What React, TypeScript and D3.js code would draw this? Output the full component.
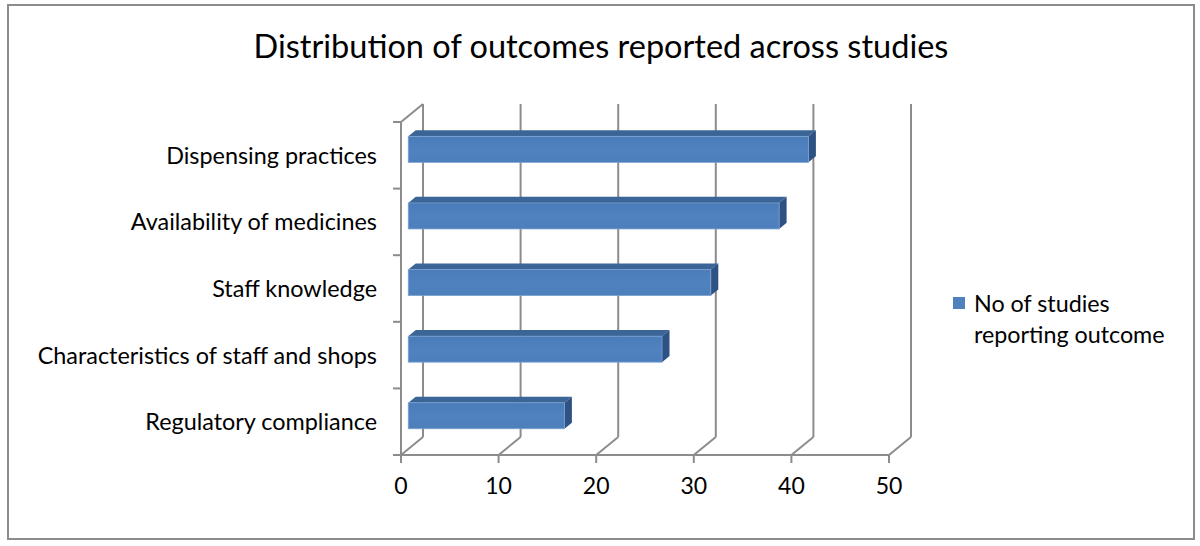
import React from "react";
import * as d3 from "d3";

const categories = [
  "Dispensing practices",
  "Availability of medicines",
  "Staff knowledge",
  "Characteristics of staff and shops",
  "Regulatory compliance",
];
const values = [41, 38, 31, 26, 16];
const xTicks = [0, 10, 20, 30, 40, 50];
const seriesName = ["No of studies", "reporting outcome"];
const title = "Distribution of outcomes reported across studies";

const W = 1200;
const H = 546;
const FONT = "Lato, 'Open Sans', 'Noto Sans', sans-serif";

export default function App() {
  const x = d3.scaleLinear().domain([0, 50]).range([401, 889]);
  const y = d3.scaleBand<string>().domain(categories).range([122, 455]);
  const depth = { dx: 22, dy: -18 };
  const f1 = 0.33;
  const f2 = 0.67;
  const o1 = { x: depth.dx * f1, y: depth.dy * f1 };
  const o2 = { x: depth.dx * f2, y: depth.dy * f2 };
  const barH = y.bandwidth() * 0.39;
  const grid = "#8c8c8c";
  const yBottom = y.range()[1];
  const yTop = y.range()[0];
  const boundaries = [...categories.map((c) => y(c) as number), yBottom];

  const pts = (arr: [number, number][]) => arr.map((p) => p.join(",")).join(" ");

  return (
    <svg
      width={W}
      height={H}
      style={{ position: "absolute", left: 0, top: 0, display: "block", background: "#fff" }}
      fontFamily={FONT}
    >
      <defs>
        <linearGradient id="front" x1="0" y1="0" x2="0" y2="1">
          <stop offset="0" stopColor="#4a7cb9" />
          <stop offset="0.5" stopColor="#4f82bf" />
          <stop offset="1" stopColor="#4c7fbc" />
        </linearGradient>
      </defs>
      <rect x={8} y={5} width={1186} height={534} fill="#fff" stroke={grid} strokeWidth={2} />

      <text x={601} y={58} textAnchor="middle" fontSize={32.5} fill="#000">
        {title}
      </text>

      {/* back wall gridlines and floor diagonals */}
      {xTicks.map((t) => (
        <g key={"g" + t}>
          <line
            x1={x(t) + depth.dx}
            x2={x(t) + depth.dx}
            y1={yTop + depth.dy}
            y2={yBottom + depth.dy}
            stroke={grid}
            strokeWidth={2}
          />
          <line
            x1={x(t)}
            x2={x(t) + depth.dx}
            y1={yBottom}
            y2={yBottom + depth.dy}
            stroke={grid}
            strokeWidth={2}
          />
          <line x1={x(t)} x2={x(t)} y1={yBottom} y2={yBottom + 8} stroke={grid} strokeWidth={2} />
          <text
            x={x(t)}
            y={494}
            textAnchor="middle"
            fontSize={23}
            fill="#000"
          >
            {t}
          </text>
        </g>
      ))}
      {/* left wall top diagonal */}
      <line x1={x(0)} y1={yTop} x2={x(0) + depth.dx} y2={yTop + depth.dy} stroke={grid} strokeWidth={2} />
      {/* front axes */}
      <line x1={x(0)} x2={x(50)} y1={yBottom} y2={yBottom} stroke={grid} strokeWidth={2} />
      <line x1={x(0)} x2={x(0)} y1={yTop} y2={yBottom} stroke={grid} strokeWidth={2} />
      {boundaries.map((b, i) => (
        <line key={"b" + i} x1={x(0) - 8} x2={x(0)} y1={b} y2={b} stroke={grid} strokeWidth={2} />
      ))}

      {/* bars */}
      {categories.map((c, i) => {
        const v = values[i];
        const cy = (y(c) as number) + y.bandwidth() / 2;
        const yt = cy - barH / 2;
        const yb = cy + barH / 2;
        const x0 = x(0);
        const x1 = x(v);
        return (
          <g key={c}>
            <polygon
              points={pts([
                [x0 + o1.x, yt + o1.y],
                [x1 + o1.x, yt + o1.y],
                [x1 + o2.x, yt + o2.y],
                [x0 + o2.x, yt + o2.y],
              ])}
              fill="#3b6597"
            />
            <polygon
              points={pts([
                [x1 + o1.x, yt + o1.y],
                [x1 + o2.x, yt + o2.y],
                [x1 + o2.x, yb + o2.y],
                [x1 + o1.x, yb + o1.y],
              ])}
              fill="#2e5283"
            />
            <rect
              x={x0 + o1.x}
              y={yt + o1.y}
              width={x1 - x0}
              height={barH}
              fill="url(#front)"
              stroke="#7aa0cf"
              strokeWidth={0.8}
            />
          </g>
        );
      })}

      {/* category labels */}
      {categories.map((c) => (
        <text
          key={"l" + c}
          x={377}
          y={(y(c) as number) + y.bandwidth() / 2}
          dy="0.36em"
          textAnchor="end"
          fontSize={23.4}
          fill="#000"
        >
          {c}
        </text>
      ))}

      {/* legend */}
      <rect x={953} y={297} width={12} height={12} fill="#4f81bd" />
      <text x={974} y={312} fontSize={23.3} fill="#000">
        {seriesName[0]}
      </text>
      <text x={974} y={343} fontSize={23.3} fill="#000">
        {seriesName[1]}
      </text>
    </svg>
  );
}
